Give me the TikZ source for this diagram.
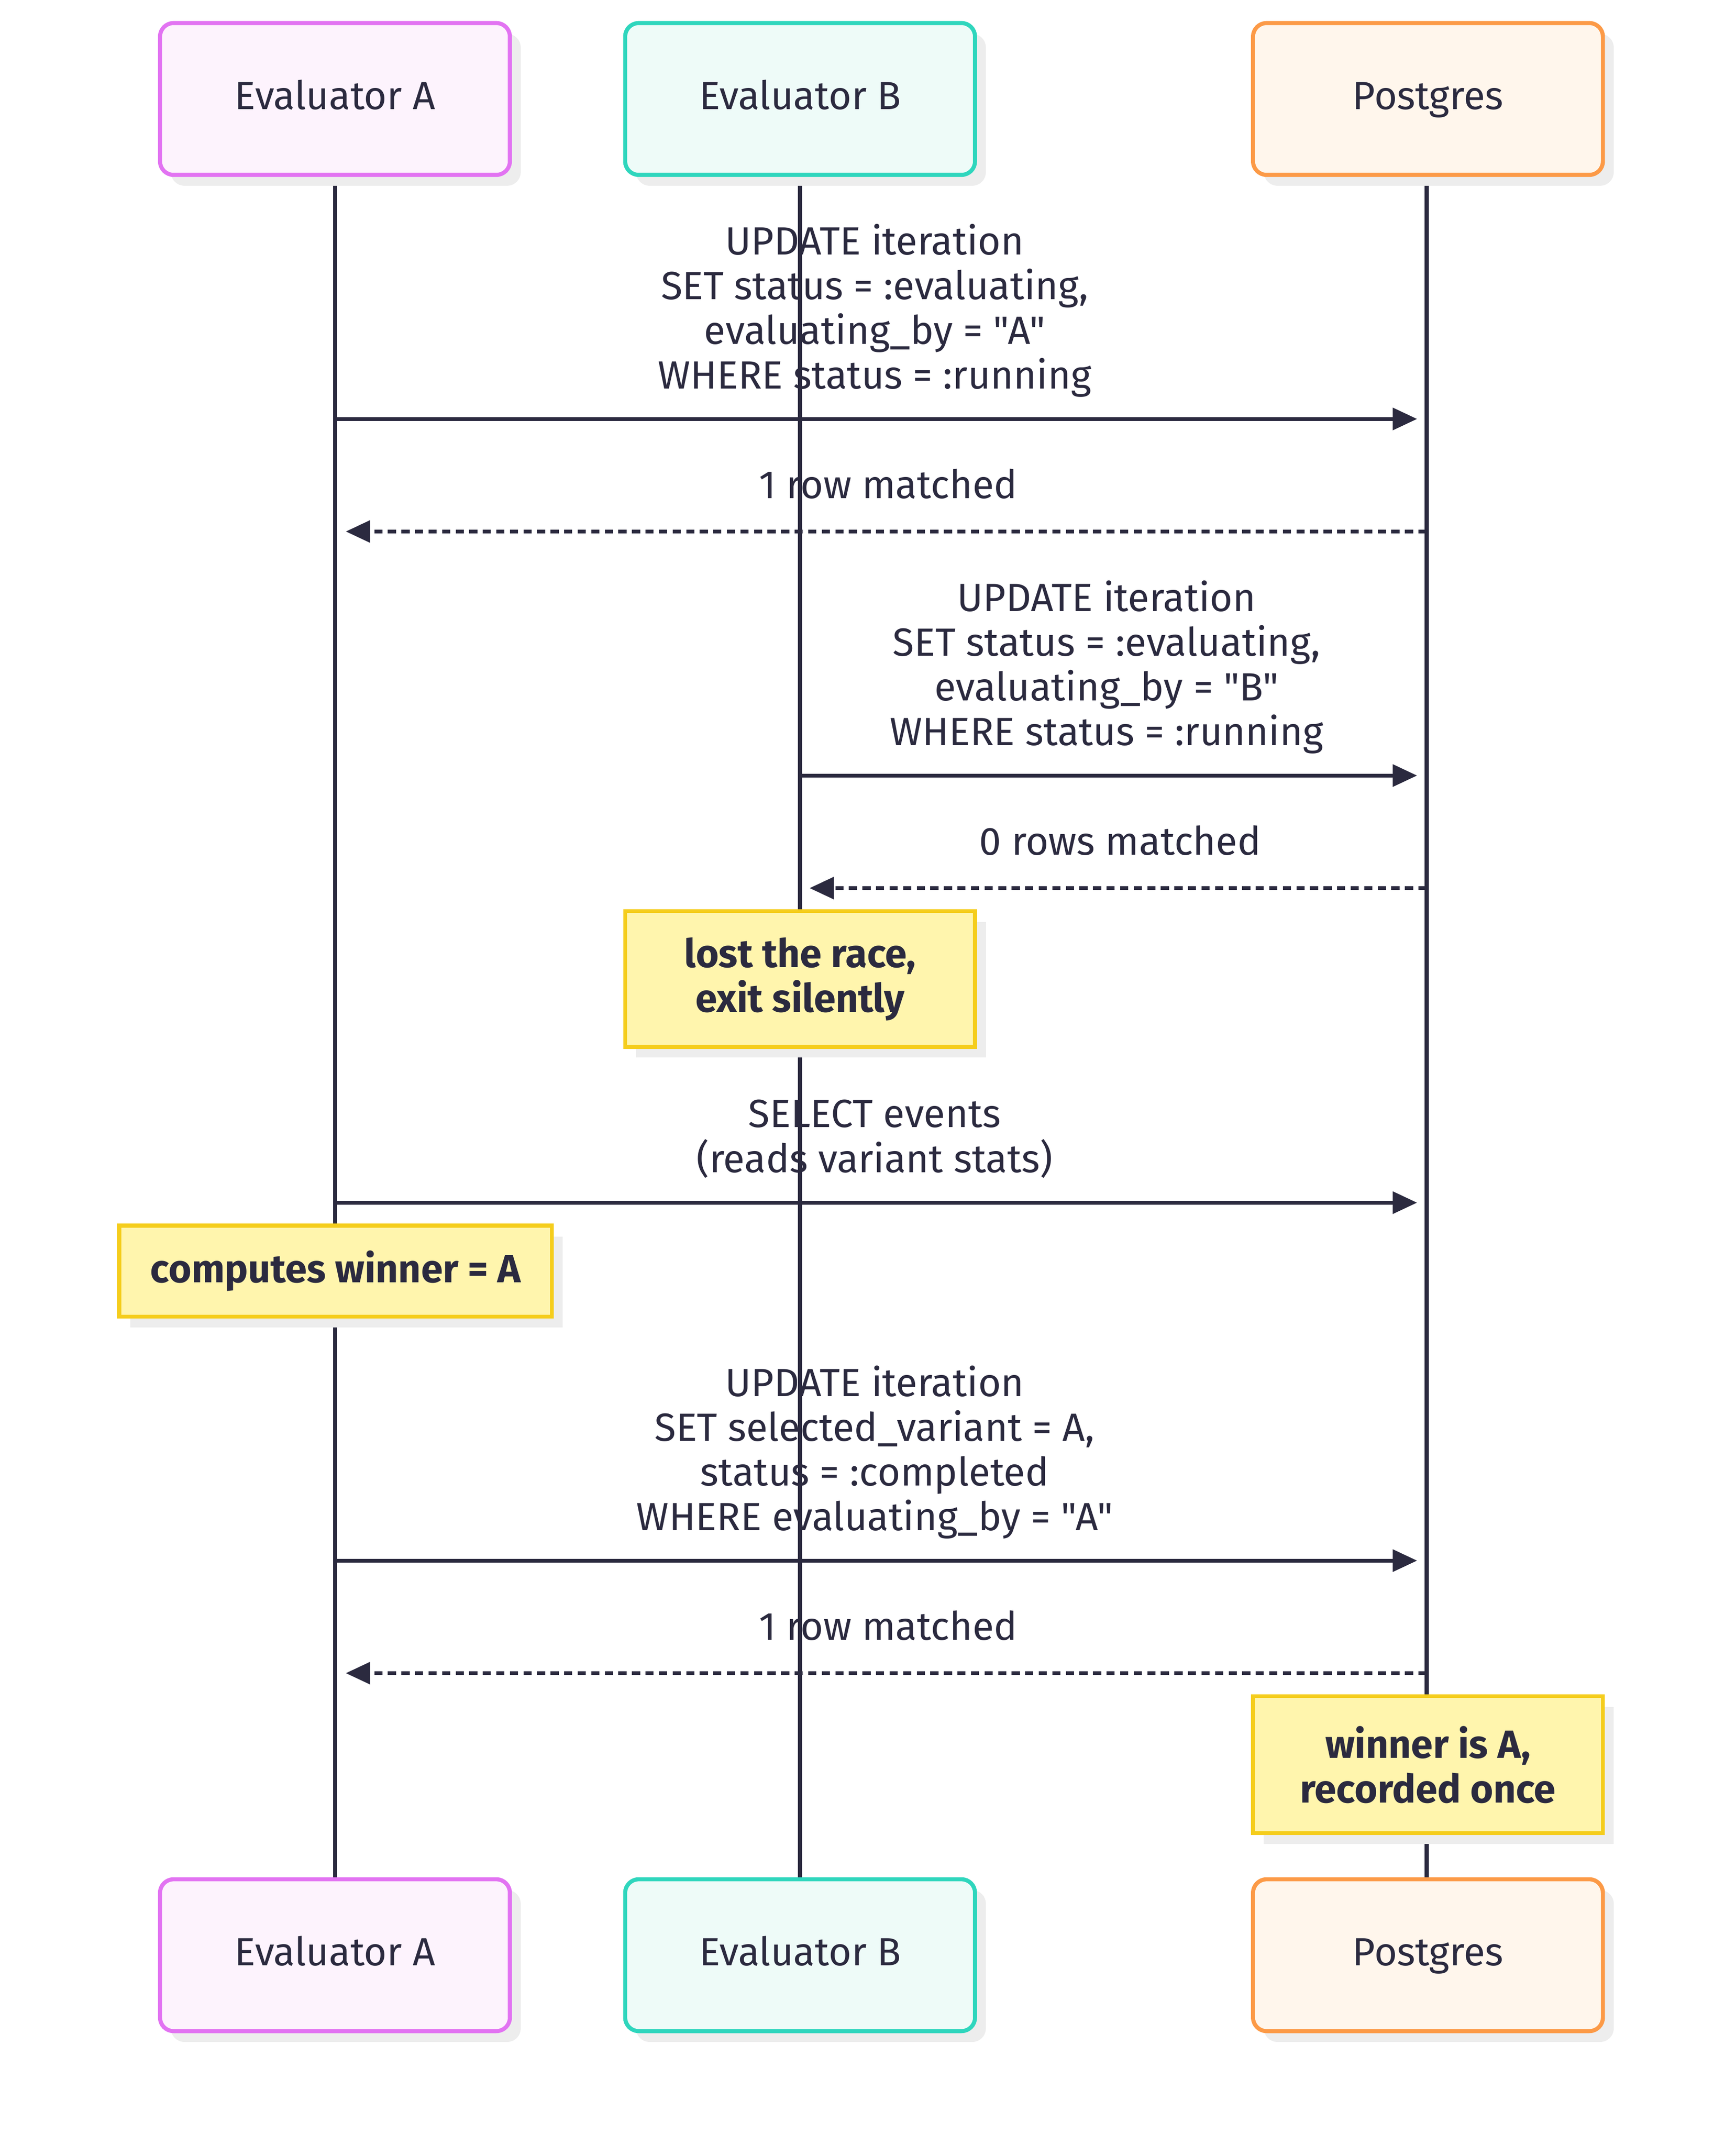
\documentclass[tikz,border=0pt]{standalone}
\usepackage{fontspec}
\defaultfontfeatures[\rmfamily]{Scale=1}
\setmainfont{Fira Sans}
\usetikzlibrary{arrows.meta}
\definecolor{ln}{HTML}{2B2A3F}
\definecolor{shd}{HTML}{EDEDED}
\definecolor{abd}{HTML}{E273F2}\definecolor{afl}{HTML}{FDF3FD}
\definecolor{bbd}{HTML}{2FD6BD}\definecolor{bfl}{HTML}{EEFBF8}
\definecolor{pbd}{HTML}{FC9A47}\definecolor{pfl}{HTML}{FFF6EC}
\definecolor{nbd}{HTML}{F5CD1C}\definecolor{nfl}{HTML}{FFF5AD}
\newcommand{\dq}{\symbol{34}}
\begin{document}
\begin{tikzpicture}[x=0.5pt,y=-0.5pt,
 life/.style={draw=ln,line width=1.5pt},
 msg/.style={draw=ln,line width=1.4pt,-{Triangle[length=9pt,width=8pt]}},
 ret/.style={msg,dash pattern=on 3pt off 2pt},
 lbl/.style={align=center,font=\fontsize{14.5}{16.5}\selectfont,text=ln,inner sep=0pt},
 one/.style={lbl,text height=10.5pt,text depth=3pt},
 nlbl/.style={lbl,font=\fontsize{14.5}{16.5}\selectfont\bfseries}]
\useasboundingbox (0,0) rectangle (1280,1582);
% lifelines
\coordinate (at) at (247,129); \coordinate (ab) at (247,1386);
\coordinate (bt) at (590,129); \coordinate (bb) at (590,1386);
\coordinate (pt) at (1052,129); \coordinate (pb) at (1052,1386);
\draw[life] (at)--(ab); \draw[life] (bt)--(bb); \draw[life] (pt)--(pb);
% actor boxes
\newcommand{\actor}[7]{%
 \fill[shd,rounded corners=5pt] (#1+8,#2+8) rectangle (#3+8,#4+8);
 \draw[draw=#5,fill=#6,line width=1.5pt,rounded corners=5pt] (#1,#2) rectangle (#3,#4);
 \node[one] at ({(#1+#3)/2},{(#2+#4)/2}) {#7};}
\actor{118}{17}{376}{129}{abd}{afl}{Evaluator A}
\actor{461}{17}{719}{129}{bbd}{bfl}{Evaluator B}
\actor{924}{17}{1182}{129}{pbd}{pfl}{Postgres}
\actor{118}{1386}{376}{1498}{abd}{afl}{Evaluator A}
\actor{461}{1386}{719}{1498}{bbd}{bfl}{Evaluator B}
\actor{924}{1386}{1182}{1498}{pbd}{pfl}{Postgres}
\newcommand{\note}[5]{%
 \fill[shd] (#1+8,#2+8) rectangle (#3+8,#4+8);
 \draw[draw=nbd,fill=nfl,line width=1.5pt] (#1,#2) rectangle (#3,#4);
 \node[nlbl] at ({(#1+#3)/2},{(#2+#4)/2}) {#5};}
\foreach \n/\y in {1/309,2/392,3/572,4/655,5/887,6/1151,7/1234}{
 \coordinate (a\n) at (247,\y); \coordinate (b\n) at (590,\y); \coordinate (p\n) at (1045,\y); \coordinate (q\n) at (1052,\y);}
\coordinate (a2e) at (255,392); \coordinate (a7e) at (255,1234); \coordinate (b4e) at (597,655);
\draw[msg] (a1)--(p1); \node[lbl] (m1) at (645,229) {UPDATE iteration\\SET status = :evaluating,\\evaluating\_by = \dq A\dq\\WHERE status = :running};
\draw[ret] (q2)--(a2e); \node[one] (m2) at (655,360) {1 row matched};
\draw[msg] (b3)--(p3); \node[lbl] (m3) at (816,492) {UPDATE iteration\\SET status = :evaluating,\\evaluating\_by = \dq B\dq\\WHERE status = :running};
\draw[ret] (q4)--(b4e); \node[one] (m4) at (826,623) {0 rows matched};
\note{461}{672}{719}{772}{lost the race,\\exit silently}
\draw[msg] (a5)--(p5); \node[lbl] (m5) at (645,840) {SELECT events\\(reads variant stats)};
\note{88}{904}{407}{971}{computes winner = A}
\draw[msg] (a6)--(p6); \node[lbl] (m6) at (645,1071) {UPDATE iteration\\SET selected\_variant = A,\\status = :completed\\WHERE evaluating\_by = \dq A\dq};
\draw[ret] (q7)--(a7e); \node[one] (m7) at (655,1202) {1 row matched};
\note{924}{1251}{1182}{1352}{winner is A,\\recorded once}
\end{tikzpicture}
\end{document}
